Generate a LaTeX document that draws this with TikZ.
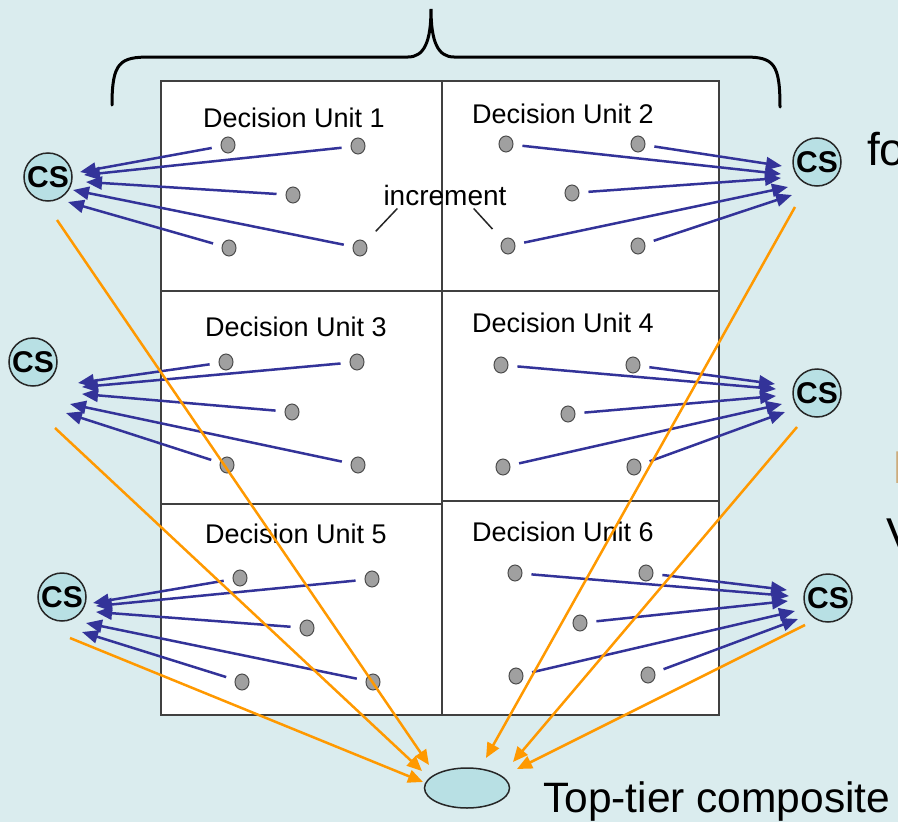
\documentclass[tikz,border=0pt]{standalone}
\usepackage{fontspec}
\setmainfont{Liberation Sans}
\usetikzlibrary{arrows.meta,shapes.geometric}
\definecolor{bg}{RGB}{218,236,238}
\definecolor{csfill}{RGB}{184,224,228}
\definecolor{arrblue}{RGB}{51,51,153}
\definecolor{arrorange}{RGB}{255,153,0}
\definecolor{dotgray}{RGB}{160,160,160}
\definecolor{gridline}{RGB}{64,64,64}
\definecolor{tancol}{RGB}{205,172,125}

\begin{document}
\begin{tikzpicture}[x=1pt,y=-1pt,
  csnode/.style={circle,draw=black!85,line width=1.5pt,fill=csfill,minimum size=48pt,
    inner sep=0pt,font=\fontsize{30}{30}\selectfont\bfseries},
  dotnode/.style={ellipse,draw=black!70,line width=1pt,fill=dotgray,
    minimum width=14pt,minimum height=16pt,inner sep=0pt},
  dulabel/.style={anchor=base,inner sep=0pt,font=\fontsize{27}{27}\selectfont},
  flow/.style={arrblue,line width=2.5pt,shorten <=9pt,
    -{Triangle[length=16pt,width=13pt]}},
  feed/.style={arrorange,line width=2.5pt,-{Triangle[length=15pt,width=13pt]}},
  pointer/.style={draw=black!85,line width=1.5pt},
  bigtext/.style={anchor=base west,inner sep=0pt,font=\fontsize{46}{46}\selectfont}
]
% canvas
\fill[bg] (0,0) rectangle (898,822);
\useasboundingbox (0,0) rectangle (898,822);

% brace over the decision units
\draw[black,line width=3pt,line cap=round]
  (112,105) .. controls (112,62) and (120,57) .. (150,57) -- (408,57)
  .. controls (424,57) and (431,42) .. (431,9)
  .. controls (431,42) and (438,57) .. (454,57) -- (745,57)
  .. controls (774,57) and (780,64) .. (780,107);

% grid of decision units
\draw[gridline,line width=2pt,fill=white] (161,81) rectangle (719,715);
\draw[gridline,line width=2pt] (442,81) -- (442,715);
\draw[gridline,line width=2pt] (161,291) -- (719,291);
\draw[gridline,line width=2pt] (161,504) -- (442,504);
\draw[gridline,line width=2pt] (442,501) -- (719,501);

% unit titles
\node[dulabel] (lab1) at (294,127) {Decision Unit 1};
\node[dulabel] (lab2) at (563,123) {Decision Unit 2};
\node[dulabel] (lab3) at (296,336) {Decision Unit 3};
\node[dulabel] (lab4) at (563,332) {Decision Unit 4};
\node[dulabel] (lab5) at (296,543) {Decision Unit 5};
\node[dulabel] (lab6) at (563,541) {Decision Unit 6};

% increments inside each unit
\node[dotnode] (d11) at (228,145) {};
\node[dotnode] (d12) at (358,146) {};
\node[dotnode] (d13) at (293,195) {};
\node[dotnode] (d14) at (229,248) {};
\node[dotnode] (d15) at (360,248) {};

\node[dotnode] (d21) at (506,144) {};
\node[dotnode] (d22) at (638,144) {};
\node[dotnode] (d23) at (572,193) {};
\node[dotnode] (d24) at (508,246) {};
\node[dotnode] (d25) at (638,246) {};

\node[dotnode] (d31) at (226,362) {};
\node[dotnode] (d32) at (357,362) {};
\node[dotnode] (d33) at (292,412) {};
\node[dotnode] (d34) at (227,465) {};
\node[dotnode] (d35) at (358,465) {};

\node[dotnode] (d41) at (501,365) {};
\node[dotnode] (d42) at (633,365) {};
\node[dotnode] (d43) at (568,414) {};
\node[dotnode] (d44) at (503,467) {};
\node[dotnode] (d45) at (634,467) {};

\node[dotnode] (d51) at (240,578) {};
\node[dotnode] (d52) at (372,579) {};
\node[dotnode] (d53) at (307,628) {};
\node[dotnode] (d54) at (242,682) {};
\node[dotnode] (d55) at (373,682) {};

\node[dotnode] (d61) at (515,573) {};
\node[dotnode] (d62) at (646,573) {};
\node[dotnode] (d63) at (580,623) {};
\node[dotnode] (d64) at (516,676) {};
\node[dotnode] (d65) at (648,675) {};

% "increment" callout
\node[anchor=base,inner sep=0pt,font=\fontsize{28}{28}\selectfont] (incr) at (445,205) {increment};
\draw[pointer,shorten >=15pt] ([xshift=14pt,yshift=-3pt]incr.south west) -- (d15);
\draw[pointer,shorten >=15pt] ([xshift=-33pt,yshift=-3pt]incr.south east) -- (d24);

% composite scores
\node[csnode] (cs1) at (48,177) {CS};
\node[csnode] (cs2) at (817,162) {CS};
\node[csnode] (cs3) at (33,362) {CS};
\node[csnode] (cs4) at (817,393) {CS};
\node[csnode] (cs5) at (62,597) {CS};
\node[csnode] (cs6) at (828,598) {CS};

% arrow tips next to each composite score
\coordinate (t11) at (80,172);  \coordinate (t12) at (84,175);
\coordinate (t13) at (86,182);  \coordinate (t14) at (68,202);
\coordinate (t15) at (73,190);
\coordinate (t21) at (781,174); \coordinate (t22) at (782,166);
\coordinate (t23) at (781,178); \coordinate (t24) at (788,187);
\coordinate (t25) at (792,195);
\coordinate (t31) at (78,383);  \coordinate (t32) at (82,387);
\coordinate (t33) at (82,394);  \coordinate (t34) at (66,413);
\coordinate (t35) at (70,404);
\coordinate (t41) at (776,389); \coordinate (t42) at (775,384);
\coordinate (t43) at (776,396); \coordinate (t44) at (782,404);
\coordinate (t45) at (785,412);
\coordinate (t51) at (93,603);  \coordinate (t52) at (96,606);
\coordinate (t53) at (96,612);  \coordinate (t54) at (82,632);
\coordinate (t55) at (86,623);
\coordinate (t61) at (789,596); \coordinate (t62) at (787,590);
\coordinate (t63) at (788,601); \coordinate (t64) at (795,611);
\coordinate (t65) at (798,619);

% increments roll up into unit composite scores
\foreach \g in {1,...,6}{
  \foreach \k in {1,...,5}{
    \draw[flow] (d\g\k) -- (t\g\k);
  }
}

% top-tier composite
\node[ellipse,draw=black!85,line width=1.5pt,fill=csfill,minimum width=85pt,
  minimum height=40pt,inner sep=0pt] (top) at (467,788) {};
\node[anchor=base west,inner sep=0pt,font=\fontsize{42.5}{42.5}\selectfont]
  (toplab) at (543,812) {Top-tier composite};

% unit scores feed the top-tier composite
\coordinate (o1) at (57,220);  \coordinate (e1) at (429,765);
\coordinate (o3) at (55,428);  \coordinate (e3) at (422,771);
\coordinate (o5) at (70,638);  \coordinate (e5) at (423,782);
\coordinate (o2) at (795,207); \coordinate (e2) at (486,758);
\coordinate (o4) at (797,427); \coordinate (e4) at (513,762);
\coordinate (o6) at (805,625); \coordinate (e6) at (517,769);
\foreach \k in {1,...,6}{
  \draw[feed] (o\k) -- (e\k);
}

% text running off the right edge
\node[bigtext] (side1) at (867,165) {fo};
\node[bigtext,text=tancol] (side2) at (892,483) {I};
\node[bigtext] (side3) at (886,550) {V};
\end{tikzpicture}
\end{document}
